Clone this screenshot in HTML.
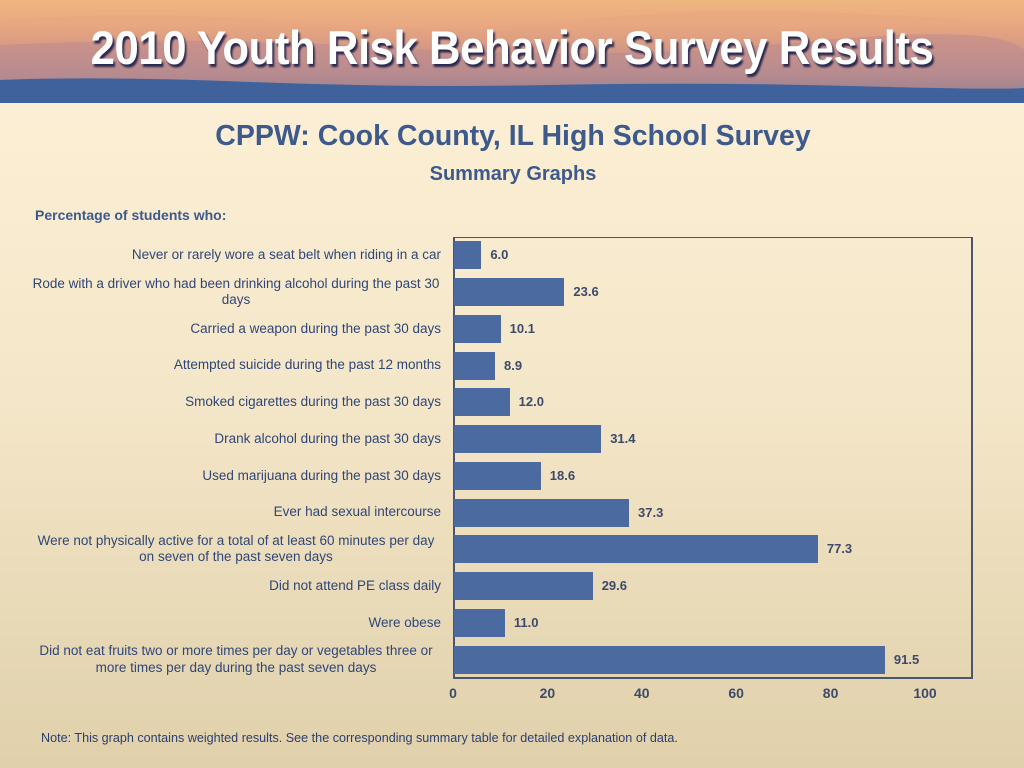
<!DOCTYPE html>
<html><head><meta charset="utf-8"><style>
body{margin:0;width:1024px;height:768px;overflow:hidden;font-family:"Liberation Sans",sans-serif;background:linear-gradient(#fcefd5 100px,#f4e6c8 400px,#e0d0ab 768px);position:relative}
.abs{position:absolute}
</style></head><body>
<div class="abs" style="left:0;top:0;width:1024px;height:103px;overflow:hidden;background:linear-gradient(#eeb67e 0px,#e9a982 25px,#c99088 45px,#9f8296 62px,#7a76a0 76px,#48649c 84px,#3a5e9a 103px)">
<svg width="1024" height="103" class="abs" style="left:0;top:0">
<path d="M0 20 Q150 10 300 22 T600 18 T1024 24 L1024 103 L0 103Z" fill="#e8a57f" opacity="0.5"/>
<path d="M0 45 Q200 35 400 48 T800 42 T1024 50 L1024 103 L0 103Z" fill="#b98790" opacity="0.5"/>
<path d="M0 80 Q100 76 250 82 T550 85 T850 86 T1024 88 L1024 103 L0 103Z" fill="#3f619c"/>
</svg>
<div class="abs" style="left:0;width:1024px;top:20px;text-align:center;font-size:47px;font-weight:bold;color:#fff;text-shadow:2px 3px 2px #2a2a50;transform:scaleX(0.93);letter-spacing:-0.5px">2010 Youth Risk Behavior Survey Results</div>
</div>
<div class="abs" style="left:0;width:1026px;top:120px;text-align:center;font-size:28.5px;font-weight:bold;color:#3d5a8c">CPPW: Cook County, IL High School Survey</div>
<div class="abs" style="left:0;width:1026px;top:163px;text-align:center;font-size:20px;font-weight:bold;color:#3d5a8c">Summary Graphs</div>
<div class="abs" style="left:35px;top:207px;font-size:14px;font-weight:bold;color:#3d5a8c">Percentage of students who:</div>
<div class="abs" style="left:41px;top:731px;font-size:12.6px;color:#2a3f70">Note: This graph contains weighted results. See the corresponding summary table for detailed explanation of data.</div>
<div id="chart"></div>
<script>
const categories=["Never or rarely wore a seat belt when riding in a car","Rode with a driver who had been drinking alcohol during the past 30 days","Carried a weapon during the past 30 days","Attempted suicide during the past 12 months","Smoked cigarettes during the past 30 days","Drank alcohol during the past 30 days","Used marijuana during the past 30 days","Ever had sexual intercourse","Were not physically active for a total of at least 60 minutes per day on seven of the past seven days","Did not attend PE class daily","Were obese","Did not eat fruits two or more times per day or vegetables three or more times per day during the past seven days"];
const values=[6.0,23.6,10.1,8.9,12.0,31.4,18.6,37.3,77.3,29.6,11.0,91.5];
const ticks=[0,20,40,60,80,100];
const X0=453,X1=925,FR=971,T=237,B=678;
const x=v=>X0+(v/100)*(X1-X0);
const rowH=(B-T)/categories.length;
const y=i=>T+rowH*i;
const c=document.getElementById('chart');
const fr=document.createElement('div');
fr.className='abs';
fr.style.cssText=`left:${X0}px;top:${T}px;width:${FR-X0-2}px;height:${B-T-2}px;border:1px solid #4a5670;border-width:1px 2px 2px 2px`;


c.appendChild(fr);
categories.forEach((cat,i)=>{
 const bh=28, top=y(i)+(rowH-bh)/2;
 const b=document.createElement('div');
 b.className='abs';
 b.style.cssText=`left:${X0+1}px;top:${top}px;width:${x(values[i])-X0-1}px;height:${bh}px;background:#4a6aa0`;
 
 
 c.appendChild(b);
 const v=document.createElement('div');
 v.className='abs';
 v.style.cssText=`left:${x(values[i])+9}px;top:${top+6}px;font-size:13px;font-weight:bold;color:#3d4a6a`;
 v.textContent=values[i].toFixed(1);
 
 
 c.appendChild(v);
 const l=document.createElement('div');
 l.className='abs';
 l.style.cssText=`right:${1024-441}px;width:410px;top:${y(i)}px;height:${rowH}px;display:flex;align-items:center;justify-content:center;text-align:center;font-size:13.5px;line-height:16.5px;color:#2f4677`;
 l.innerHTML='<span style="width:100%">'+cat+'</span>';
 if(cat.length<60){l.style.justifyContent='flex-end';l.style.textAlign='right';l.style.width='440px';}
 
 
 c.appendChild(l);
});
ticks.forEach(t=>{
 const d=document.createElement('div');
 d.className='abs';
 d.style.cssText=`left:${x(t)-30}px;width:60px;text-align:center;top:685px;font-size:14px;font-weight:bold;color:#3d4a6a`;
 d.textContent=t;
 
 
 c.appendChild(d);
});
</script>
</body></html>
